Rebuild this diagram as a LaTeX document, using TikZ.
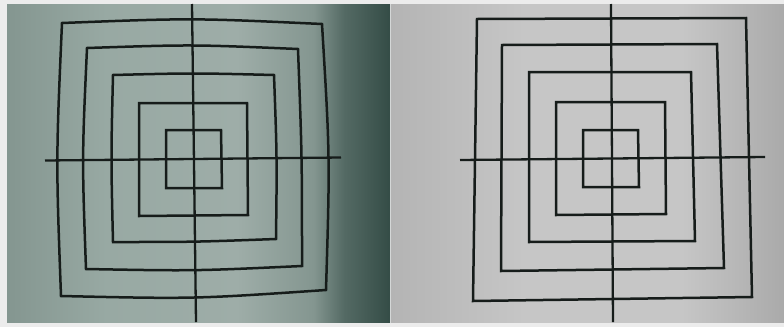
\documentclass[tikz,border=0pt]{standalone}
\definecolor{lA}{RGB}{132,150,144}
\definecolor{lB}{RGB}{152,169,163}
\definecolor{lC}{RGB}{158,173,168}
\definecolor{lD}{RGB}{132,150,144}
\definecolor{lE}{RGB}{84,106,100}
\definecolor{lF}{RGB}{52,76,70}
\definecolor{rA}{RGB}{180,180,180}
\definecolor{rB}{RGB}{198,198,198}
\definecolor{rC}{RGB}{170,170,170}
\definecolor{ink}{RGB}{22,28,26}
\definecolor{frame}{RGB}{236,236,236}
\pgfdeclarehorizontalshading{leftbg}{100bp}{color(0bp)=(lA); color(25bp)=(lA); color(38bp)=(lB); color(55bp)=(lC); color(65bp)=(lD); color(69bp)=(lE); color(75bp)=(lF); color(100bp)=(lF)}
\pgfdeclarehorizontalshading{rightbg}{100bp}{color(0bp)=(rA); color(25bp)=(rA); color(42bp)=(rB); color(62bp)=(rB); color(75bp)=(rC); color(100bp)=(rC)}
\begin{document}
\begin{tikzpicture}[x=1pt,y=-1pt,
  ink line/.style={draw=ink,line width=2.5pt,line join=miter},
  axis line/.style={draw=ink,line width=2.3pt}]
\useasboundingbox (0,0) rectangle (784,327);
\fill[frame] (0,0) rectangle (784,327);
% panels
\shade[shading=leftbg] (7,4) rectangle (390,322);
\shade[shading=rightbg] (391,4) rectangle (784,322);
% left panel (barrel distorted)
\draw[ink line] (62,23) .. controls (192,18) .. (322,24)
  .. controls (330,157) .. (326,290)
  .. controls (194,299) .. (61,296)
  .. controls (56,160) .. cycle;
\draw[ink line] (87,48) .. controls (192,44.5) .. (298,49)
  .. controls (302,157) .. (302,266)
  .. controls (194,271) .. (86,269)
  .. controls (82,158) .. cycle;
\draw[ink line] (113,75) .. controls (193,73) .. (274,75)
  .. controls (277,157) .. (276,239)
  .. controls (194,242) .. (113,242)
  .. controls (111,158) .. cycle;
\draw[ink line] (139,103) -- (247,103) -- (248,215) -- (139,216) -- cycle;
\draw[ink line] (166,130) -- (221,130) -- (222,188) -- (166,188) -- cycle;
\draw[axis line] (45,160.5) -- (341,157.5);
\draw[axis line] (192,4) -- (196,322);
% right panel (corrected)
\draw[ink line] (477,19) -- (746,18) -- (752,297) -- (473,301) -- cycle;
\draw[ink line] (502,45) -- (717,44) -- (724,268) -- (501,271) -- cycle;
\draw[ink line] (529,72) -- (691,72) -- (695,241) -- (529,242) -- cycle;
\draw[ink line] (556,102) -- (665,102) -- (666,214) -- (556,215) -- cycle;
\draw[ink line] (583,130) -- (638,130) -- (639,187) -- (583,187) -- cycle;
\draw[axis line] (460,160) -- (765,157);
\draw[axis line] (611,4) -- (613,322);
\end{tikzpicture}
\end{document}
